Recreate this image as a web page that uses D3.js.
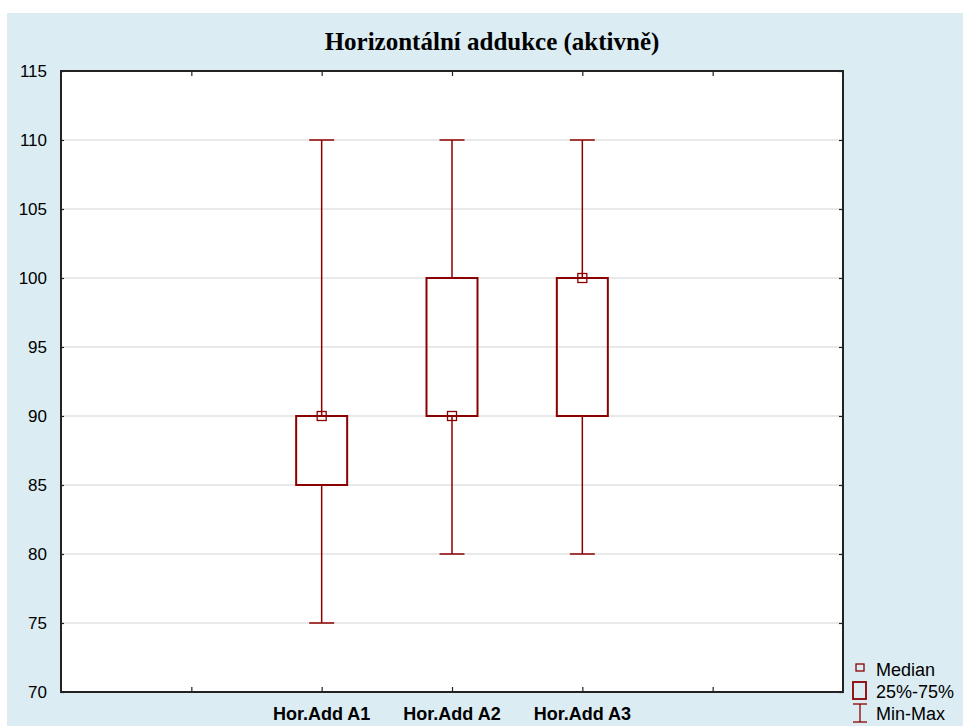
<!DOCTYPE html>
<html><head><meta charset="utf-8">
<script src="https://cdn.jsdelivr.net/npm/d3@7"></script>
<style>body{margin:0;background:#fff}svg{display:block}</style>
</head><body>
<svg id="c" width="963" height="726"></svg>
<script>
const title = "Horizontální addukce (aktivně)";
const categories = ["Hor.Add A1", "Hor.Add A2", "Hor.Add A3"];
const minVals = [75, 80, 80];
const q1Vals = [85, 90, 90];
const medianVals = [90, 90, 100];
const q3Vals = [90, 100, 100];
const maxVals = [110, 110, 110];
const yTicks = [70, 75, 80, 85, 90, 95, 100, 105, 110, 115];
const legendLabels = ["Median", "25%-75%", "Min-Max"];

const svg = d3.select("#c");
const W = 963, H = 726;
const red = "#8b0000";
const m = {l: 61, r: 843, t: 71, b: 692};

svg.append("rect").attr("x", 7).attr("y", 13).attr("width", W - 7).attr("height", H - 13).attr("fill", "#dbecf2");

const y = d3.scaleLinear().domain([70, 115]).range([m.b, m.t]);
const x = d3.scaleLinear().domain([0, 6]).range([m.l, m.r]);
const catPos = [2, 3, 4];

svg.append("rect").attr("x", m.l).attr("y", m.t).attr("width", m.r - m.l).attr("height", m.b - m.t).attr("fill", "#fff");

// gridlines
svg.append("g").selectAll("line").data(yTicks.slice(1, -1)).join("line")
  .attr("x1", m.l).attr("x2", m.r).attr("y1", d => y(d)).attr("y2", d => y(d))
  .attr("stroke", "#d4d4d4").attr("stroke-width", 1.2);

// axes
const yAxisL = d3.axisLeft(y).tickValues(yTicks).tickSize(-3).tickPadding(14).tickFormat(d3.format("d"));
const gL = svg.append("g").attr("transform", `translate(${m.l},0)`).call(yAxisL);
gL.selectAll("text").attr("font-family", "Arial, 'Liberation Sans', sans-serif").attr("font-size", 17).attr("fill", "#000");
const yAxisR = d3.axisRight(y).tickValues(yTicks).tickSize(-4).tickFormat("");
svg.append("g").attr("transform", `translate(${m.r},0)`).call(yAxisR);

const xAxisB = d3.axisBottom(x).tickValues([1, 2, 3, 4, 5]).tickSize(-5).tickFormat("");
svg.append("g").attr("transform", `translate(0,${m.b})`).call(xAxisB);
const xAxisT = d3.axisTop(x).tickValues([1, 2, 3, 4, 5]).tickSize(-5).tickFormat("");
svg.append("g").attr("transform", `translate(0,${m.t})`).call(xAxisT);
svg.selectAll(".domain").remove();
svg.selectAll(".tick line").attr("stroke", "#222").attr("stroke-width", 1.2);

// frame
svg.append("rect").attr("x", m.l).attr("y", m.t).attr("width", m.r - m.l).attr("height", m.b - m.t)
  .attr("fill", "none").attr("stroke", "#222").attr("stroke-width", 2);

// x labels
svg.append("g").selectAll("text").data(categories).join("text")
  .attr("x", (d, i) => x(catPos[i])).attr("y", 720).attr("text-anchor", "middle")
  .attr("font-family", "Arial, 'Liberation Sans', sans-serif").attr("font-weight", "bold").attr("font-size", 18)
  .text(d => d);

// boxes
const bw = 51, cw = 25, ms = 9;
const g = svg.append("g");
categories.forEach((c, i) => {
  const cx = x(catPos[i]);
  g.append("line").attr("x1", cx).attr("x2", cx).attr("y1", y(maxVals[i])).attr("y2", y(q3Vals[i]))
    .attr("stroke", red).attr("stroke-width", 1.5);
  g.append("line").attr("x1", cx).attr("x2", cx).attr("y1", y(q1Vals[i])).attr("y2", y(minVals[i]))
    .attr("stroke", red).attr("stroke-width", 1.5);
  g.append("line").attr("x1", cx - cw / 2).attr("x2", cx + cw / 2).attr("y1", y(maxVals[i])).attr("y2", y(maxVals[i]))
    .attr("stroke", red).attr("stroke-width", 1.5);
  g.append("line").attr("x1", cx - cw / 2).attr("x2", cx + cw / 2).attr("y1", y(minVals[i])).attr("y2", y(minVals[i]))
    .attr("stroke", red).attr("stroke-width", 1.5);
  g.append("rect").attr("x", cx - bw / 2).attr("y", y(q3Vals[i])).attr("width", bw).attr("height", y(q1Vals[i]) - y(q3Vals[i]))
    .attr("fill", "none").attr("stroke", red).attr("stroke-width", 2);
  g.append("rect").attr("x", cx - ms / 2).attr("y", y(medianVals[i]) - ms / 2).attr("width", ms).attr("height", ms)
    .attr("fill", "none").attr("stroke", red).attr("stroke-width", 1.3);
});

// title
svg.append("text").attr("x", 492).attr("y", 50).attr("text-anchor", "middle")
  .attr("font-family", "'Times New Roman', 'Liberation Serif', serif").attr("font-weight", "bold").attr("font-size", 25)
  .text(title);

// legend
const lg = svg.append("g");
const lf = "Arial, 'Liberation Sans', sans-serif";
lg.append("rect").attr("x", 856).attr("y", 664).attr("width", 8).attr("height", 7).attr("fill", "none").attr("stroke", red).attr("stroke-width", 1.3);
lg.append("rect").attr("x", 853).attr("y", 682).attr("width", 13).attr("height", 17).attr("fill", "none").attr("stroke", red).attr("stroke-width", 1.8);
lg.append("line").attr("x1", 853).attr("x2", 867).attr("y1", 704).attr("y2", 704).attr("stroke", red).attr("stroke-width", 1.3);
lg.append("line").attr("x1", 853).attr("x2", 867).attr("y1", 722).attr("y2", 722).attr("stroke", red).attr("stroke-width", 1.3);
lg.append("line").attr("x1", 860).attr("x2", 860).attr("y1", 704).attr("y2", 722).attr("stroke", red).attr("stroke-width", 1.3);
lg.selectAll("text").data(legendLabels).join("text")
  .attr("x", 876).attr("y", (d, i) => 676 + i * 22).attr("font-family", lf).attr("font-size", 18).text(d => d);
</script>
</body></html>
